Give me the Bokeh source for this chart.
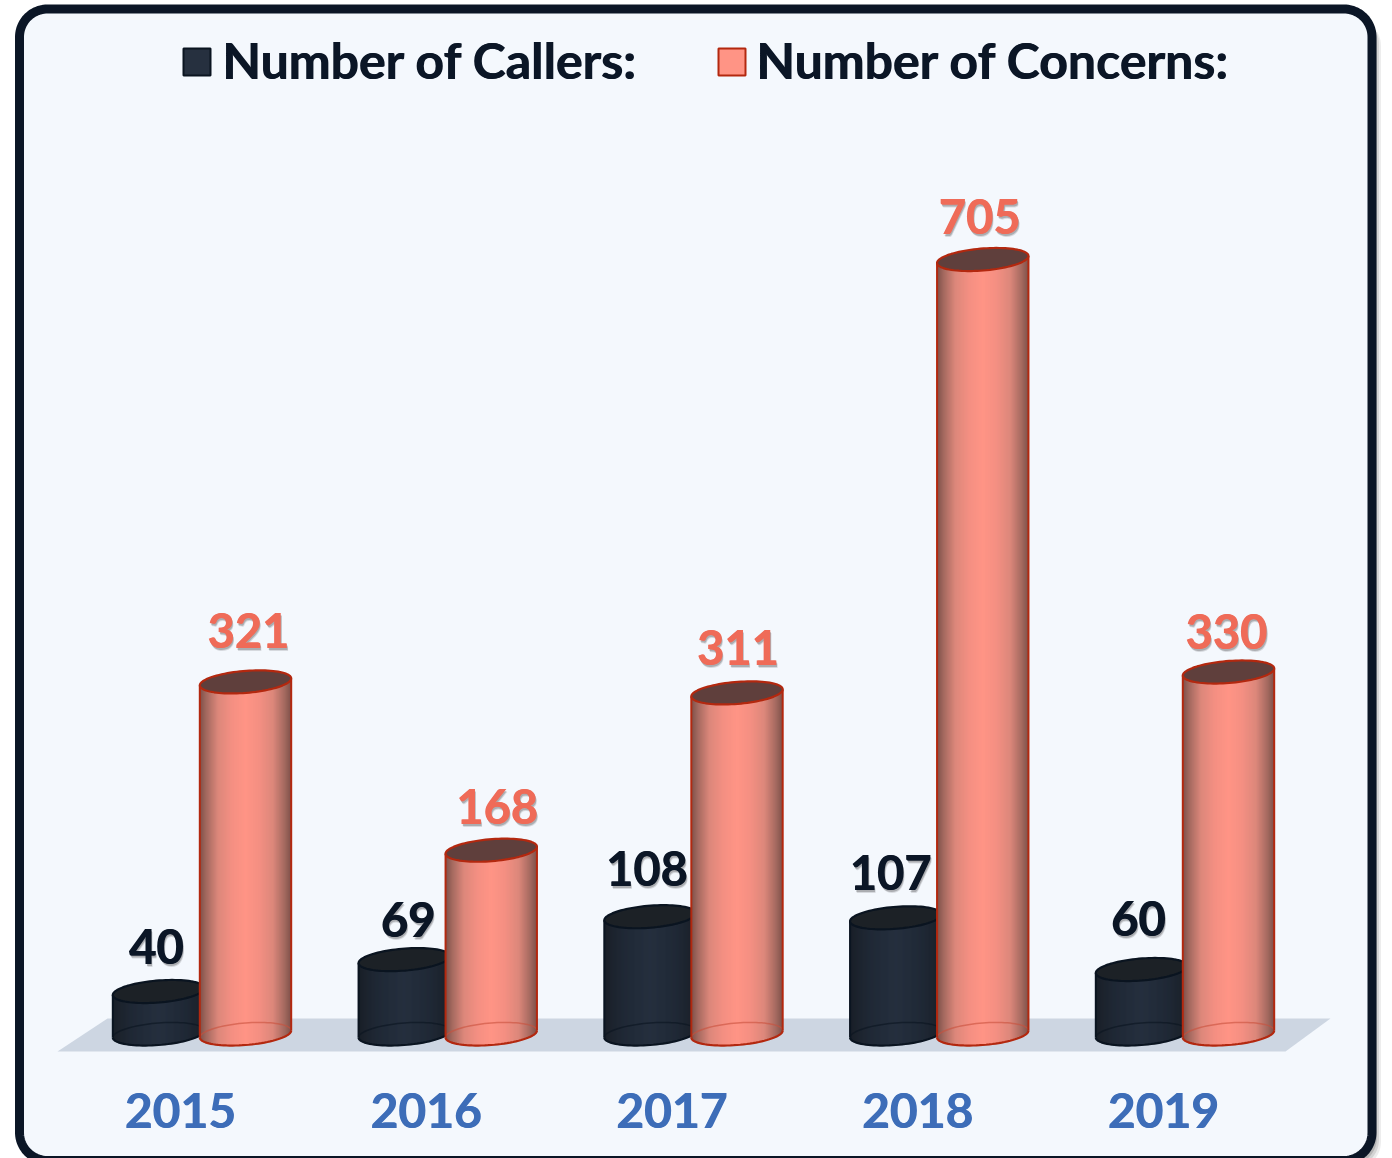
import numpy as np
from bokeh.plotting import figure
from bokeh.models import Range1d
from bokeh.core.properties import value
from bokeh.embed import file_html
from bokeh.resources import INLINE

# ---- data ----
years = ["2015", "2016", "2017", "2018", "2019"]
callers = [40, 69, 108, 107, 60]
concerns = [321, 168, 311, 705, 330]
legend_labels = ["Number of Callers:", "Number of Concerns:"]

# ---- layout (pixels in the page) ----
W, H = 1392, 1158
BASE = 1033.5
K = 1.1
DARK_SHIFT = 1.5
SALMON_SHIFT = 1.0
GROUP0, STEP = 201.5, 245.75
OFF_DARK, OFF_SALMON = -43.5, 43.5
A, B, RISE = 45.7, 11.0, 3.5
FONT = value("Lato")
caller_dy = [44, 39, 47, 44, 50]
concern_dy = [50, 43, 44, 42, 40]
caller_dx = [-2, 4, -3, -5, -3]
concern_dx = [3, 6, 1, -3, -2]

NAVY = "#0b1626"
SALMON_TXT = "#ef6b58"
BLUE = "#3d6db8"


def py(px):
    return (BASE - np.asarray(px, dtype=float)) / K


p = figure(width=W, height=H, output_backend="svg", toolbar_location=None,
           x_range=Range1d(0, W), y_range=Range1d(py(H), py(0)),
           min_border=0, background_fill_color="#ffffff", border_fill_color="#ffffff",
           styles={"position": "fixed", "left": "0px", "top": "0px"})
p.axis.visible = False
p.grid.visible = False
p.outline_line_color = None


def rounded(x0, y0, x1, y1, r):
    t = np.linspace(0, np.pi / 2, 24)
    xs = np.concatenate([x1 - r + r * np.sin(t), x1 - r + r * np.cos(t),
                         x0 + r - r * np.sin(t), x0 + r - r * np.cos(t)])
    ys = np.concatenate([y0 + r - r * np.cos(t), y1 - r + r * np.sin(t),
                         y1 - r + r * np.cos(t), y0 + r - r * np.sin(t)])
    return xs, ys


# card: soft shadow, then frame
for d, al in [(9, 0.07), (7, 0.10), (5, 0.14)]:
    xs, ys = rounded(19 + d, 8.5 + d, 1371.5 + d, 1160 + d, 28)
    p.patch(xs, py(ys), fill_color="#000000", fill_alpha=al, line_color=None)
xs, ys = rounded(19, 8.5, 1371.5, 1160, 28)
p.patch(xs, py(ys), fill_color="#f4f8fd", line_color=NAVY, line_width=9)

# floor
p.patch([57, 1285, 1330, 107], py([1051, 1051, 1018, 1018]), fill_color="#cdd6e2", line_color=None)

salmon_stops = (["#7d514a", "#a56a60", "#dc877b", "#f48f82", "#ff9485"],
                "#b3280f", "#5f3f3c", "#c9503c")
dark_stops = (["#181e27", "#1c232d", "#1f2835", "#222c3a", "#252f3e"],
              "#0a1420", "#1c2126", "#0a1420")
U = [1.0, 0.85, 0.6, 0.3, 0.0]


def rgb(h):
    return [int(h[i:i + 2], 16) for i in (1, 3, 5)]


def shade(stops, u):
    cols = np.array([rgb(s) for s in stops], dtype=float)
    c = [np.interp(abs(u), U[::-1], cols[:, k][::-1]) for k in range(3)]
    return "#%02x%02x%02x" % tuple(int(round(v)) for v in c)


def cylinder(cx, val, style, shift=0.0):
    stops, edge, top_fill, back = style
    ctop = BASE - val * K + shift
    l, r, bt, tp, cols = [], [], [], [], []
    for x in np.arange(np.floor(cx - A), np.ceil(cx + A)):
        xa, xb = max(x, cx - A), min(x + 1, cx + A)
        u = ((xa + xb) / 2 - cx) / A
        dy = -RISE * u
        arc = B * np.sqrt(max(0.0, 1 - u * u))
        l.append(xa)
        r.append(min(xb + 1.0, cx + A))  # overlap the next strip so no seam shows
        tp.append(py(ctop + dy))
        bt.append(py(BASE + dy + arc))
        cols.append(shade(stops, u))
    p.quad(left=l, right=r, top=tp, bottom=bt, fill_color=cols, fill_alpha=1.0, line_color=None)

    t = np.linspace(0, 2 * np.pi, 90)
    ex = cx + A * np.cos(t)
    # bottom ellipse: back half faint, front half strong
    back_t = np.linspace(np.pi, 2 * np.pi, 45)
    front_t = np.linspace(0, np.pi, 45)
    p.line(cx + A * np.cos(back_t), py(BASE - RISE * np.cos(back_t) + B * np.sin(back_t)),
           line_color=back, line_alpha=0.6, line_width=1.5)
    p.line(cx + A * np.cos(front_t), py(BASE - RISE * np.cos(front_t) + B * np.sin(front_t)),
           line_color=edge, line_width=2.2)
    # sides
    p.line([cx - A, cx - A], py([ctop + RISE, BASE + RISE]), line_color=edge, line_width=2)
    p.line([cx + A, cx + A], py([ctop - RISE, BASE - RISE]), line_color=edge, line_width=2)
    # top
    p.patch(ex, py(ctop - RISE * np.cos(t) + B * np.sin(t)), fill_color=top_fill,
            line_color=edge, line_width=2.2)


def label(x, ypx, txt, color, size="47px", align="center", shadow=True):
    common = dict(text_font=FONT, text_font_style="bold", text_font_size=value(size),
                  text_align=align, text_baseline="middle")
    if shadow:
        for d, al in [(3, 0.12), (2, 0.2)]:
            p.text([x + d * 0.5], [py(ypx + d)], text=[txt], text_color="#000000", text_alpha=al, **common)
    for dx in (-0.4, 0.4):
        p.text([x + dx], [py(ypx)], text=[txt], text_color=color, **common)


for i in range(len(years)):
    g = GROUP0 + STEP * i
    cylinder(g + OFF_DARK, callers[i], dark_stops, DARK_SHIFT)

for i in range(len(years)):
    g = GROUP0 + STEP * i
    cylinder(g + OFF_SALMON, concerns[i], salmon_stops, SALMON_SHIFT)
    label(g + OFF_DARK + caller_dx[i], BASE - callers[i] * K - caller_dy[i], str(callers[i]), NAVY)
    label(g + OFF_SALMON + concern_dx[i], BASE - concerns[i] * K - concern_dy[i], str(concerns[i]), SALMON_TXT)
    label(g - 21.5, 1110, years[i], BLUE, size="48px", shadow=False)

# legend
p.quad(left=[183], right=[210], top=py([48]), bottom=py([75]), fill_color="#26303f", line_color="#0a1420", line_width=2)
p.quad(left=[718], right=[745], top=py([48]), bottom=py([75]), fill_color="#ff9485", line_color="#b3280f", line_width=2)
label(222, 59, legend_labels[0], NAVY, size="50px", align="left", shadow=False)
label(756, 59, legend_labels[1], NAVY, size="50px", align="left", shadow=False)

open("out.html", "w").write(file_html(p, INLINE))
